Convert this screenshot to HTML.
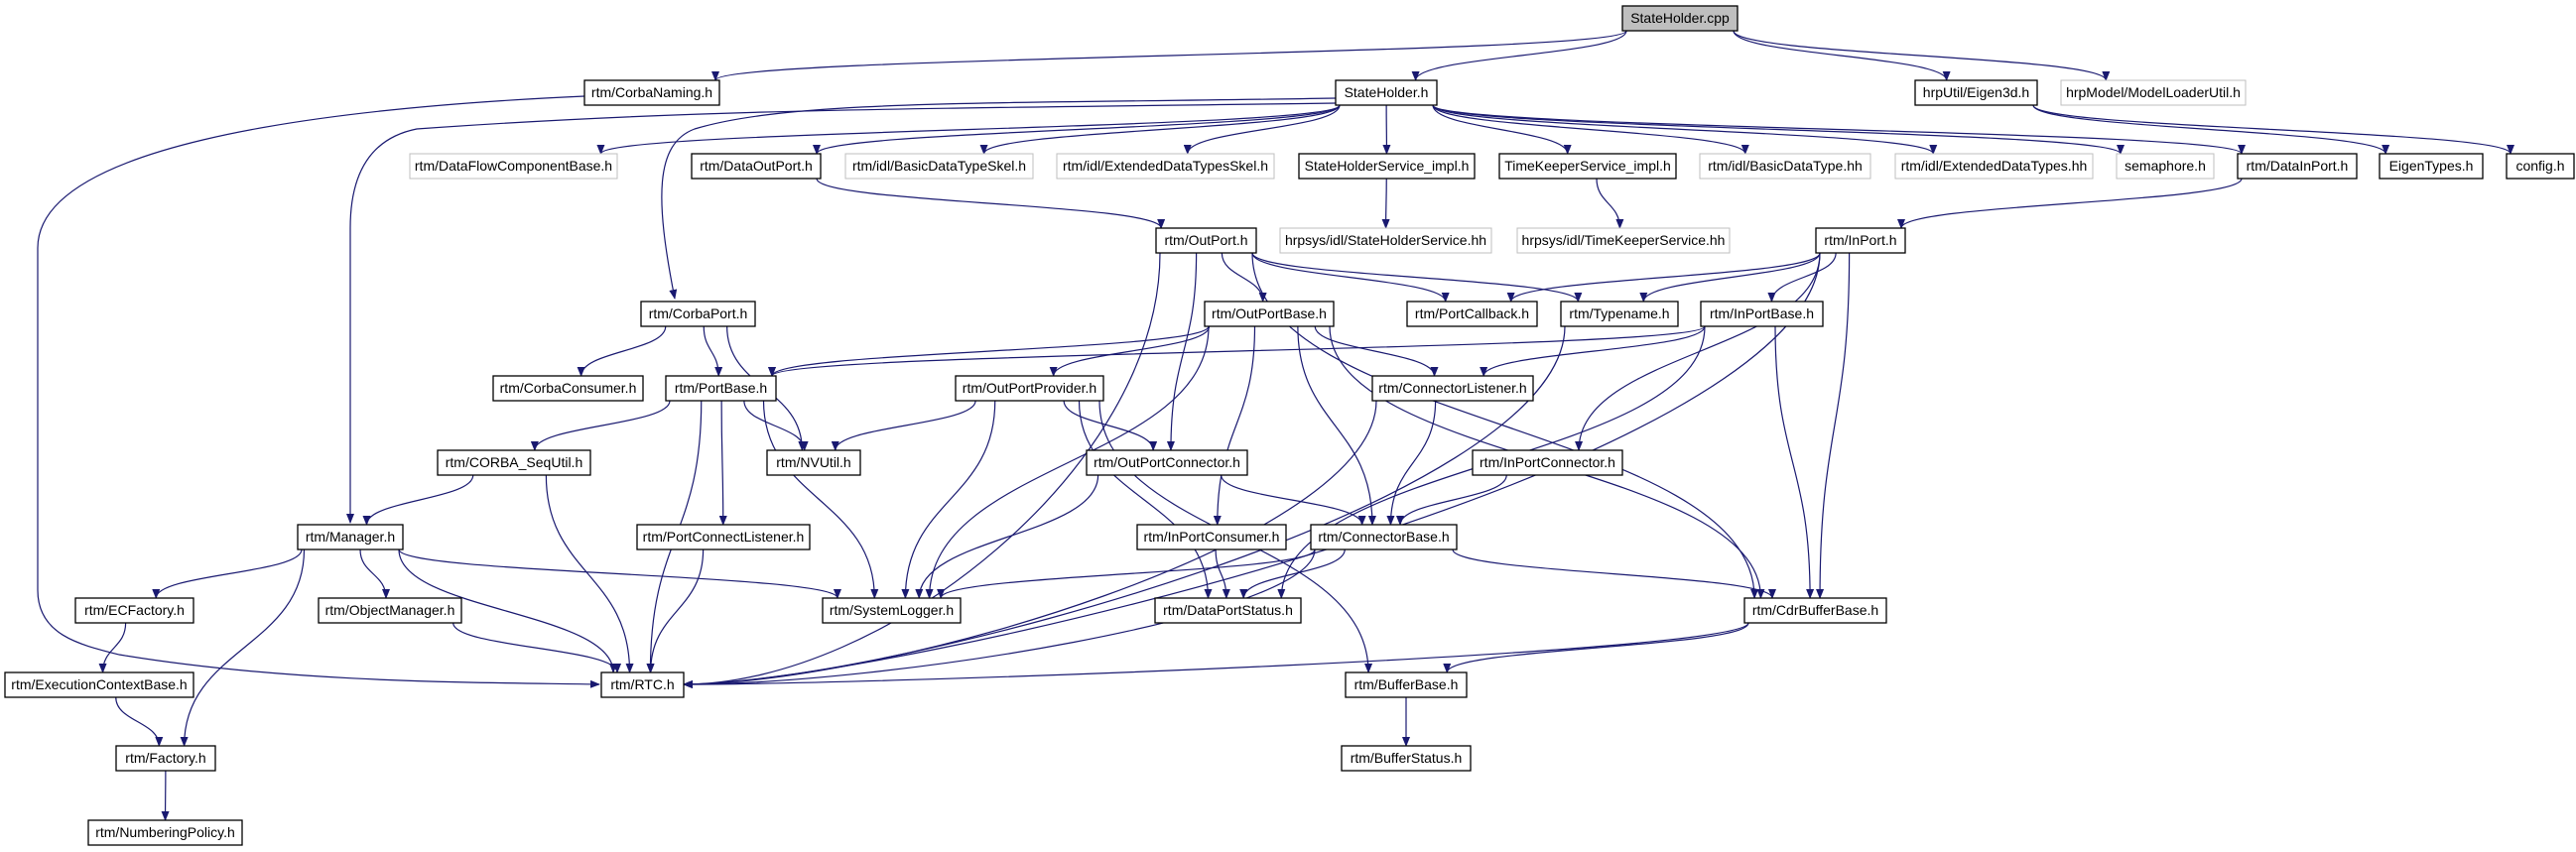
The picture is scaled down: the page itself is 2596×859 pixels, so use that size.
<!DOCTYPE html>
<html><head><meta charset="utf-8"><style>
html,body{margin:0;padding:0;background:#fff;}
svg{display:block;}
text{font-family:"Liberation Sans",sans-serif;font-size:14px;}
</style></head><body>
<svg id="g" width="2596" height="859" viewBox="0 0 2596 859" xmlns="http://www.w3.org/2000/svg">
<defs><marker id="a" markerWidth="10" markerHeight="8" refX="9" refY="4" orient="auto" markerUnits="userSpaceOnUse"><path d="M0,0 L10,4 L0,8 z" fill="#191970"/></marker></defs>
<g id="e" fill="none" stroke="#191970" stroke-width="1.2"></g>
<g id="n"></g>
</svg>
<script>
var N={
cpp:["StateHolder.cpp",1635,1751,6,2],
CN:["rtm/CorbaNaming.h",589,725,81],
SH:["StateHolder.h",1346,1448,81],
E3:["hrpUtil/Eigen3d.h",1930,2053,81],
ML:["hrpModel/ModelLoaderUtil.h",2077,2263,81,1],
DFC:["rtm/DataFlowComponentBase.h",413,622,155,1],
DOP:["rtm/DataOutPort.h",697,827,155],
BDS:["rtm/idl/BasicDataTypeSkel.h",852,1041,155,1],
EDS:["rtm/idl/ExtendedDataTypesSkel.h",1065,1284,155,1],
SHS:["StateHolderService_impl.h",1309,1486,155],
TKS:["TimeKeeperService_impl.h",1511,1689,155],
BDT:["rtm/idl/BasicDataType.hh",1713,1885,155,1],
EDT:["rtm/idl/ExtendedDataTypes.hh",1910,2109,155,1],
SEM:["semaphore.h",2133,2231,155,1],
DIP:["rtm/DataInPort.h",2255,2375,155],
ET:["EigenTypes.h",2398,2502,155],
CFG:["config.h",2526,2594,155],
OP:["rtm/OutPort.h",1165,1266,230],
SHH:["hrpsys/idl/StateHolderService.hh",1290,1503,230,1],
TKH:["hrpsys/idl/TimeKeeperService.hh",1529,1743,230,1],
IP:["rtm/InPort.h",1830,1920,230],
CP:["rtm/CorbaPort.h",646,761,304],
OPB:["rtm/OutPortBase.h",1214,1344,304],
PC:["rtm/PortCallback.h",1418,1549,304],
TN:["rtm/Typename.h",1573,1691,304],
IPB:["rtm/InPortBase.h",1714,1837,304],
CC:["rtm/CorbaConsumer.h",497,648,379],
PB:["rtm/PortBase.h",671,782,379],
OPP:["rtm/OutPortProvider.h",963,1112,379],
CL:["rtm/ConnectorListener.h",1383,1545,379],
CSU:["rtm/CORBA_SeqUtil.h",441,595,454],
NV:["rtm/NVUtil.h",773,867,454],
OPC:["rtm/OutPortConnector.h",1095,1257,454],
IPC:["rtm/InPortConnector.h",1484,1635,454],
MG:["rtm/Manager.h",300,406,529],
PCL:["rtm/PortConnectListener.h",642,816,529],
IPCs:["rtm/InPortConsumer.h",1146,1296,529],
CB:["rtm/ConnectorBase.h",1321,1468,529],
ECF:["rtm/ECFactory.h",76,195,603],
OM:["rtm/ObjectManager.h",321,465,603],
SL:["rtm/SystemLogger.h",829,968,603],
DPS:["rtm/DataPortStatus.h",1164,1311,603],
CBB:["rtm/CdrBufferBase.h",1758,1901,603],
ECB:["rtm/ExecutionContextBase.h",5,195,678],
RTC:["rtm/RTC.h",606,689,678],
BB:["rtm/BufferBase.h",1356,1478,678],
FAC:["rtm/Factory.h",117,217,752],
BS:["rtm/BufferStatus.h",1352,1482,752],
NP:["rtm/NumberingPolicy.h",89,244,827]
};
var H=25;
var E=[
"cpp CN","cpp SH","cpp E3","cpp ML",
"SH DFC","SH DOP","SH BDS","SH EDS","SH SHS","SH TKS","SH BDT","SH EDT","SH SEM","SH DIP",
"E3 ET","E3 CFG","SHS SHH","TKS TKH","DOP OP","DIP IP",
"OP OPB","OP PC","OP TN","OP OPC","OP CBB","OP RTC",
"IP PC","IP TN","IP IPB","IP IPC","IP CBB","IP RTC",
"OPB PB","OPB SL","OPB OPP","OPB CL","OPB IPCs","OPB CB","OPB CBB",
"IPB PB","IPB CL","IPB DPS","IPB CBB",
"CP CC","CP PB","CP NV",
"PB CSU","PB NV","PB RTC","PB PCL","PB SL",
"OPP NV","OPP OPC","OPP SL","OPP DPS","OPP BB",
"CL CB","CL RTC","IPC CB","OPC CB","OPC SL","IPCs DPS",
"CB SL","CB DPS","CB RTC","CB CBB","CBB RTC","CBB BB","BB BS","TN RTC",
"CSU MG","CSU RTC","MG ECF","MG OM","MG FAC","MG RTC","MG SL","PCL RTC","OM RTC",
"ECF ECB","ECB FAC","FAC NP"
];
var eg=document.getElementById('e'),ng=document.getElementById('n'),S="http://www.w3.org/2000/svg";
function P(d){var p=document.createElementNS(S,'path');p.setAttribute('d',d);p.setAttribute('marker-end','url(#a)');eg.appendChild(p);}
function cl(v,a,b){return Math.max(a+4,Math.min(b-4,v));}
E.forEach(function(s){var k=s.split(' '),A=N[k[0]],B=N[k[1]];
 var acx=(A[1]+A[2])/2,bcx=(B[1]+B[2])/2;
 if(k[1]=="RTC" && B[3]-A[3]<60 && A[1]>B[2]){
  var sx=A[1],sy=A[3]+H;P("M"+sx+","+sy+" C"+(sx-150)+","+(sy+60)+" "+(B[2]+150)+","+(B[3]+12)+" "+(B[2])+","+(B[3]+12));return;}
 if(B[3]>A[3]+H){
  var sx=cl(acx+(bcx-acx)*0.25,A[1],A[2]),sy=A[3]+H,tx=cl(bcx+(acx-bcx)*0.1,B[1],B[2]),ty=B[3];
  if(k[1]=="RTC"&&A[1]>B[2]){tx=B[2];ty=B[3]+12;var m=(sy+ty)/2;P("M"+sx+","+sy+" C"+sx+","+m+" "+(tx+200)+","+ty+" "+tx+","+ty);return;}
  var m=(sy+ty)/2;P("M"+sx+","+sy+" C"+sx+","+m+" "+tx+","+m+" "+tx+","+ty);
 } else {
  var sx=A[1],sy=A[3]+12,tx=B[2],ty=B[3]+12;P("M"+sx+","+sy+" L"+tx+","+ty);}
});
P("M589,97 C300,110 38,150 38,250 L38,595 C38,640 80,650 120,660 C300,690 500,688 604,690");
P("M1346,104 C900,110 700,110 420,130 C370,140 353,180 353,230 L353,527");
P("M1346,99 C1000,105 800,100 700,130 C660,145 660,200 680,301");
for(var id in N){var d=N[id];var r=document.createElementNS(S,'rect');
 r.setAttribute('x',d[1]);r.setAttribute('y',d[3]);r.setAttribute('width',d[2]-d[1]);r.setAttribute('height',H);
 r.setAttribute('fill',d[4]==2?'#bfbfbf':'#fff');r.setAttribute('stroke',d[4]==1?'#bfbfbf':'#000');r.setAttribute('stroke-width',d[4]==1?1:1.3);
 ng.appendChild(r);var t=document.createElementNS(S,'text');t.setAttribute('x',(d[1]+d[2])/2);t.setAttribute('y',d[3]+17);
 t.setAttribute('text-anchor','middle');t.textContent=d[0];ng.appendChild(t);}
</script>
</body></html>
